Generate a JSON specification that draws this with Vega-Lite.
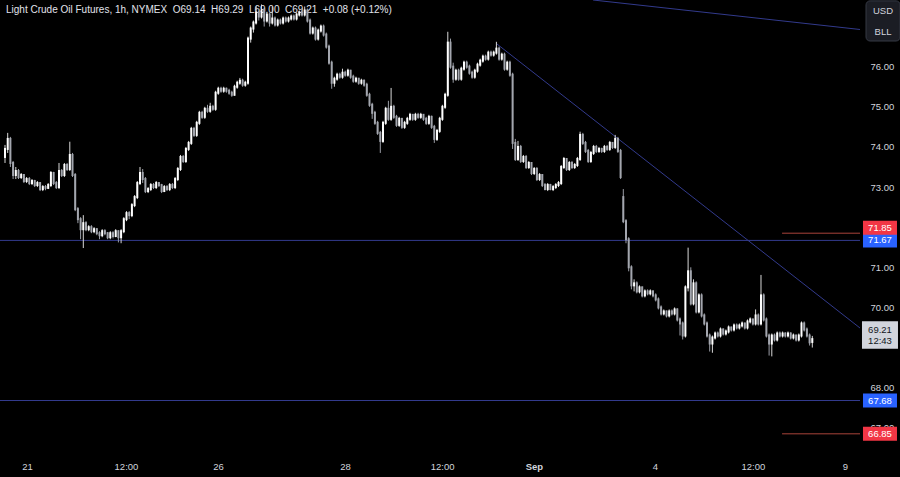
{
"$schema": "https://vega.github.io/schema/vega-lite/v6.json",
"width": 860, "height": 455, "padding": {"left": 0, "top": 0, "right": 40, "bottom": 22}, "autosize": {"type": "none"},
"background": "#000000",
"config": {"view": {"stroke": null}, "font": "Liberation Sans",
  "axis": {"domain": false, "ticks": false, "grid": false, "labelColor": "#d1d4dc", "labelFont": "Liberation Sans", "labelFontSize": 9.5, "title": null}},
"datasets": {
 "head": [{"t": "Light Crude Oil Futures, 1h, NYMEX \u00a0O69.14 \u00a0H69.29 \u00a0L69.00 \u00a0C69.21 \u00a0+0.08 (+0.12%)"}],
 "hl": [{"p": 71.67}, {"p": 67.68}],
 "red": [{"p": 71.85}, {"p": 66.85}],
 "trend": [{"i": 182.2, "p": 76.566}, {"i": 316.67, "p": 69.487}],
 "top": [{"i": 217.8, "p": 77.662}, {"i": 316.67, "p": 76.927}],
 "tags": [{"p": 71.85, "k": "red", "t": "71.85"}, {"p": 71.67, "k": "blue", "t": "71.67"}, {"p": 67.68, "k": "blue", "t": "67.68"}, {"p": 66.85, "k": "red", "t": "66.85"}],
 "last": [{"p": 69.21, "t": "69.21", "cd": "12:43"}],
 "cur": [{"a": "USD", "p": 77.388}, {"a": "BLL", "p": 76.872}],
 "ohlc": [
{"i":0,"o":73.75,"h":74.05,"l":73.6,"c":73.95},
{"i":1,"o":73.95,"h":74.35,"l":73.85,"c":74.2},
{"i":2,"o":74.2,"h":74.25,"l":73.5,"c":73.6},
{"i":3,"o":73.6,"h":73.65,"l":73.2,"c":73.3},
{"i":4,"o":73.3,"h":73.5,"l":73.2,"c":73.4},
{"i":5,"o":73.4,"h":73.45,"l":73.2,"c":73.25},
{"i":6,"o":73.25,"h":73.35,"l":73.2,"c":73.3},
{"i":7,"o":73.3,"h":73.32,"l":73.1,"c":73.15},
{"i":8,"o":73.15,"h":73.25,"l":73.1,"c":73.2},
{"i":9,"o":73.2,"h":73.25,"l":73.05,"c":73.1},
{"i":10,"o":73.1,"h":73.2,"l":73.05,"c":73.15},
{"i":11,"o":73.15,"h":73.18,"l":73.0,"c":73.05},
{"i":12,"o":73.05,"h":73.15,"l":73.0,"c":73.1},
{"i":13,"o":73.1,"h":73.12,"l":72.9,"c":72.95},
{"i":14,"o":72.95,"h":73.05,"l":72.9,"c":73.0},
{"i":15,"o":73.0,"h":73.05,"l":72.92,"c":72.98},
{"i":16,"o":72.98,"h":73.1,"l":72.95,"c":73.05},
{"i":17,"o":73.05,"h":73.4,"l":73.0,"c":73.35},
{"i":18,"o":73.35,"h":73.38,"l":73.05,"c":73.1},
{"i":19,"o":73.1,"h":73.15,"l":72.95,"c":73.0},
{"i":20,"o":73.0,"h":73.6,"l":72.95,"c":73.4},
{"i":21,"o":73.4,"h":73.45,"l":73.25,"c":73.3},
{"i":22,"o":73.3,"h":73.6,"l":73.25,"c":73.55},
{"i":23,"o":73.55,"h":73.6,"l":73.4,"c":73.45},
{"i":24,"o":73.45,"h":74.13,"l":73.4,"c":73.8},
{"i":25,"o":73.8,"h":73.85,"l":73.25,"c":73.3},
{"i":26,"o":73.3,"h":73.35,"l":72.4,"c":72.45},
{"i":27,"o":72.45,"h":72.5,"l":72.1,"c":72.2},
{"i":28,"o":72.2,"h":72.25,"l":71.7,"c":71.95},
{"i":29,"o":71.95,"h":72.3,"l":71.48,"c":72.1},
{"i":30,"o":72.1,"h":72.15,"l":71.9,"c":71.95},
{"i":31,"o":71.95,"h":72.05,"l":71.9,"c":72.0},
{"i":32,"o":72.0,"h":72.05,"l":71.85,"c":71.9},
{"i":33,"o":71.9,"h":72.0,"l":71.85,"c":71.95},
{"i":34,"o":71.95,"h":71.98,"l":71.8,"c":71.85},
{"i":35,"o":71.85,"h":71.9,"l":71.7,"c":71.8},
{"i":36,"o":71.8,"h":71.95,"l":71.75,"c":71.9},
{"i":37,"o":71.9,"h":71.95,"l":71.8,"c":71.85},
{"i":38,"o":71.85,"h":71.88,"l":71.7,"c":71.75},
{"i":39,"o":71.75,"h":71.9,"l":71.7,"c":71.85},
{"i":40,"o":71.85,"h":71.9,"l":71.72,"c":71.78},
{"i":41,"o":71.78,"h":71.95,"l":71.75,"c":71.9},
{"i":42,"o":71.9,"h":71.92,"l":71.62,"c":71.75},
{"i":43,"o":71.75,"h":71.95,"l":71.6,"c":71.9},
{"i":44,"o":71.9,"h":72.25,"l":71.85,"c":72.2},
{"i":45,"o":72.2,"h":72.4,"l":72.15,"c":72.35},
{"i":46,"o":72.35,"h":72.4,"l":72.2,"c":72.3},
{"i":47,"o":72.3,"h":72.6,"l":72.25,"c":72.55},
{"i":48,"o":72.55,"h":72.8,"l":72.5,"c":72.75},
{"i":49,"o":72.75,"h":73.15,"l":72.7,"c":73.1},
{"i":50,"o":73.1,"h":73.5,"l":73.05,"c":73.35},
{"i":51,"o":73.35,"h":73.45,"l":73.1,"c":73.2},
{"i":52,"o":73.2,"h":73.25,"l":72.85,"c":72.9},
{"i":53,"o":72.9,"h":73.0,"l":72.85,"c":72.95},
{"i":54,"o":72.95,"h":73.1,"l":72.9,"c":73.05},
{"i":55,"o":73.05,"h":73.1,"l":72.95,"c":73.0},
{"i":56,"o":73.0,"h":73.15,"l":72.95,"c":73.1},
{"i":57,"o":73.1,"h":73.12,"l":73.0,"c":73.05},
{"i":58,"o":73.05,"h":73.08,"l":72.85,"c":72.9},
{"i":59,"o":72.9,"h":73.05,"l":72.88,"c":73.0},
{"i":60,"o":73.0,"h":73.05,"l":72.9,"c":72.95},
{"i":61,"o":72.95,"h":73.1,"l":72.9,"c":73.05},
{"i":62,"o":73.05,"h":73.1,"l":72.95,"c":73.0},
{"i":63,"o":73.0,"h":73.25,"l":72.95,"c":73.2},
{"i":64,"o":73.2,"h":73.5,"l":73.15,"c":73.45},
{"i":65,"o":73.45,"h":73.8,"l":73.4,"c":73.75},
{"i":66,"o":73.75,"h":73.8,"l":73.6,"c":73.65},
{"i":67,"o":73.65,"h":74.0,"l":73.6,"c":73.95},
{"i":68,"o":73.95,"h":74.15,"l":73.9,"c":74.1},
{"i":69,"o":74.1,"h":74.5,"l":74.05,"c":74.45},
{"i":70,"o":74.45,"h":74.5,"l":74.25,"c":74.3},
{"i":71,"o":74.3,"h":74.65,"l":74.25,"c":74.6},
{"i":72,"o":74.6,"h":74.9,"l":74.55,"c":74.85},
{"i":73,"o":74.85,"h":74.9,"l":74.7,"c":74.75},
{"i":74,"o":74.75,"h":75.0,"l":74.7,"c":74.95},
{"i":75,"o":74.95,"h":75.05,"l":74.85,"c":74.9},
{"i":76,"o":74.9,"h":75.1,"l":74.85,"c":75.0},
{"i":77,"o":75.0,"h":75.05,"l":74.9,"c":74.95},
{"i":78,"o":74.95,"h":75.4,"l":74.9,"c":75.35},
{"i":79,"o":75.35,"h":75.5,"l":75.3,"c":75.45},
{"i":80,"o":75.45,"h":75.5,"l":75.35,"c":75.4},
{"i":81,"o":75.4,"h":75.5,"l":75.35,"c":75.45},
{"i":82,"o":75.45,"h":75.48,"l":75.35,"c":75.4},
{"i":83,"o":75.4,"h":75.45,"l":75.3,"c":75.35},
{"i":84,"o":75.35,"h":75.4,"l":75.25,"c":75.3},
{"i":85,"o":75.3,"h":75.55,"l":75.28,"c":75.5},
{"i":86,"o":75.5,"h":75.65,"l":75.45,"c":75.6},
{"i":87,"o":75.6,"h":75.72,"l":75.55,"c":75.65},
{"i":88,"o":75.65,"h":75.7,"l":75.5,"c":75.55},
{"i":89,"o":75.55,"h":75.65,"l":75.5,"c":75.6},
{"i":90,"o":75.6,"h":76.75,"l":75.55,"c":76.7},
{"i":91,"o":76.7,"h":77.0,"l":76.6,"c":76.95},
{"i":92,"o":76.95,"h":77.15,"l":76.85,"c":77.1},
{"i":93,"o":77.1,"h":77.5,"l":77.05,"c":77.35},
{"i":94,"o":77.35,"h":77.4,"l":77.15,"c":77.25},
{"i":95,"o":77.25,"h":77.55,"l":77.2,"c":77.4},
{"i":96,"o":77.4,"h":77.45,"l":77.0,"c":77.15},
{"i":97,"o":77.15,"h":77.35,"l":77.1,"c":77.3},
{"i":98,"o":77.3,"h":77.35,"l":77.0,"c":77.1},
{"i":99,"o":77.1,"h":77.5,"l":77.05,"c":77.2},
{"i":100,"o":77.2,"h":77.25,"l":77.0,"c":77.05},
{"i":101,"o":77.05,"h":77.2,"l":77.0,"c":77.15},
{"i":102,"o":77.15,"h":77.2,"l":77.05,"c":77.1},
{"i":103,"o":77.1,"h":77.25,"l":77.05,"c":77.2},
{"i":104,"o":77.2,"h":77.25,"l":77.1,"c":77.15},
{"i":105,"o":77.15,"h":77.25,"l":77.1,"c":77.2},
{"i":106,"o":77.2,"h":77.3,"l":77.15,"c":77.25},
{"i":107,"o":77.25,"h":77.3,"l":77.15,"c":77.2},
{"i":108,"o":77.2,"h":77.35,"l":77.15,"c":77.3},
{"i":109,"o":77.3,"h":77.4,"l":77.25,"c":77.35},
{"i":110,"o":77.35,"h":77.45,"l":77.25,"c":77.3},
{"i":111,"o":77.3,"h":77.5,"l":77.25,"c":77.4},
{"i":112,"o":77.4,"h":77.45,"l":77.1,"c":77.15},
{"i":113,"o":77.15,"h":77.2,"l":76.8,"c":76.85},
{"i":114,"o":76.85,"h":77.0,"l":76.8,"c":76.95},
{"i":115,"o":76.95,"h":77.0,"l":76.65,"c":76.7},
{"i":116,"o":76.7,"h":76.95,"l":76.65,"c":76.9},
{"i":117,"o":76.9,"h":77.05,"l":76.85,"c":77.0},
{"i":118,"o":77.0,"h":77.05,"l":76.75,"c":76.8},
{"i":119,"o":76.8,"h":76.85,"l":76.45,"c":76.5},
{"i":120,"o":76.5,"h":76.55,"l":76.05,"c":76.1},
{"i":121,"o":76.1,"h":76.15,"l":75.45,"c":75.6},
{"i":122,"o":75.6,"h":75.75,"l":75.5,"c":75.7},
{"i":123,"o":75.7,"h":75.85,"l":75.65,"c":75.8},
{"i":124,"o":75.8,"h":75.85,"l":75.7,"c":75.75},
{"i":125,"o":75.75,"h":75.95,"l":75.7,"c":75.85},
{"i":126,"o":75.85,"h":75.9,"l":75.75,"c":75.8},
{"i":127,"o":75.8,"h":75.95,"l":75.75,"c":75.9},
{"i":128,"o":75.9,"h":75.92,"l":75.7,"c":75.75},
{"i":129,"o":75.75,"h":75.8,"l":75.6,"c":75.65},
{"i":130,"o":75.65,"h":75.75,"l":75.6,"c":75.7},
{"i":131,"o":75.7,"h":75.72,"l":75.55,"c":75.6},
{"i":132,"o":75.6,"h":75.7,"l":75.55,"c":75.65},
{"i":133,"o":75.65,"h":75.68,"l":75.5,"c":75.55},
{"i":134,"o":75.55,"h":75.6,"l":75.25,"c":75.3},
{"i":135,"o":75.3,"h":75.35,"l":75.0,"c":75.05},
{"i":136,"o":75.05,"h":75.1,"l":74.7,"c":74.85},
{"i":137,"o":74.85,"h":74.9,"l":74.55,"c":74.6},
{"i":138,"o":74.6,"h":74.65,"l":74.3,"c":74.35},
{"i":139,"o":74.35,"h":74.4,"l":73.85,"c":74.15},
{"i":140,"o":74.15,"h":74.65,"l":74.1,"c":74.6},
{"i":141,"o":74.6,"h":75.0,"l":74.55,"c":74.95},
{"i":142,"o":74.95,"h":75.15,"l":74.65,"c":74.7},
{"i":143,"o":74.7,"h":75.47,"l":74.65,"c":75.0},
{"i":144,"o":75.0,"h":75.05,"l":74.7,"c":74.75},
{"i":145,"o":74.75,"h":74.8,"l":74.5,"c":74.55},
{"i":146,"o":74.55,"h":74.75,"l":74.5,"c":74.7},
{"i":147,"o":74.7,"h":74.72,"l":74.45,"c":74.5},
{"i":148,"o":74.5,"h":74.65,"l":74.45,"c":74.6},
{"i":149,"o":74.6,"h":74.75,"l":74.55,"c":74.7},
{"i":150,"o":74.7,"h":74.85,"l":74.65,"c":74.8},
{"i":151,"o":74.8,"h":74.82,"l":74.65,"c":74.7},
{"i":152,"o":74.7,"h":74.85,"l":74.65,"c":74.8},
{"i":153,"o":74.8,"h":74.85,"l":74.7,"c":74.75},
{"i":154,"o":74.75,"h":74.85,"l":74.7,"c":74.8},
{"i":155,"o":74.8,"h":74.82,"l":74.65,"c":74.7},
{"i":156,"o":74.7,"h":74.75,"l":74.55,"c":74.6},
{"i":157,"o":74.6,"h":74.8,"l":74.55,"c":74.75},
{"i":158,"o":74.75,"h":74.78,"l":74.45,"c":74.5},
{"i":159,"o":74.5,"h":74.55,"l":74.1,"c":74.2},
{"i":160,"o":74.2,"h":74.45,"l":74.15,"c":74.4},
{"i":161,"o":74.4,"h":74.75,"l":74.35,"c":74.7},
{"i":162,"o":74.7,"h":75.05,"l":74.65,"c":75.0},
{"i":163,"o":75.0,"h":75.35,"l":74.95,"c":75.3},
{"i":164,"o":75.3,"h":76.87,"l":75.25,"c":76.6},
{"i":165,"o":76.6,"h":76.7,"l":75.95,"c":76.0},
{"i":166,"o":76.0,"h":76.1,"l":75.6,"c":75.7},
{"i":167,"o":75.7,"h":75.95,"l":75.65,"c":75.9},
{"i":168,"o":75.9,"h":75.95,"l":75.65,"c":75.7},
{"i":169,"o":75.7,"h":76.0,"l":75.65,"c":75.95},
{"i":170,"o":75.95,"h":76.15,"l":75.9,"c":76.1},
{"i":171,"o":76.1,"h":76.15,"l":75.95,"c":76.0},
{"i":172,"o":76.0,"h":76.05,"l":75.8,"c":75.85},
{"i":173,"o":75.85,"h":75.9,"l":75.7,"c":75.75},
{"i":174,"o":75.75,"h":75.95,"l":75.7,"c":75.9},
{"i":175,"o":75.9,"h":76.1,"l":75.85,"c":76.05},
{"i":176,"o":76.05,"h":76.2,"l":76.0,"c":76.15},
{"i":177,"o":76.15,"h":76.3,"l":76.1,"c":76.25},
{"i":178,"o":76.25,"h":76.3,"l":76.15,"c":76.2},
{"i":179,"o":76.2,"h":76.4,"l":76.15,"c":76.35},
{"i":180,"o":76.35,"h":76.4,"l":76.25,"c":76.3},
{"i":181,"o":76.3,"h":76.4,"l":76.25,"c":76.35},
{"i":182,"o":76.35,"h":76.62,"l":76.3,"c":76.45},
{"i":183,"o":76.45,"h":76.5,"l":76.15,"c":76.2},
{"i":184,"o":76.2,"h":76.35,"l":76.15,"c":76.3},
{"i":185,"o":76.3,"h":76.35,"l":75.9,"c":75.95},
{"i":186,"o":75.95,"h":76.15,"l":75.9,"c":76.1},
{"i":187,"o":76.1,"h":76.15,"l":75.75,"c":75.8},
{"i":188,"o":75.8,"h":75.85,"l":73.95,"c":74.1},
{"i":189,"o":74.1,"h":74.2,"l":73.65,"c":73.7},
{"i":190,"o":73.7,"h":74.15,"l":73.65,"c":74.0},
{"i":191,"o":74.0,"h":74.05,"l":73.6,"c":73.65},
{"i":192,"o":73.65,"h":73.8,"l":73.6,"c":73.75},
{"i":193,"o":73.75,"h":73.8,"l":73.45,"c":73.5},
{"i":194,"o":73.5,"h":73.65,"l":73.45,"c":73.6},
{"i":195,"o":73.6,"h":73.62,"l":73.3,"c":73.35},
{"i":196,"o":73.35,"h":73.5,"l":73.3,"c":73.45},
{"i":197,"o":73.45,"h":73.5,"l":73.15,"c":73.2},
{"i":198,"o":73.2,"h":73.35,"l":73.15,"c":73.3},
{"i":199,"o":73.3,"h":73.32,"l":73.0,"c":73.05},
{"i":200,"o":73.05,"h":73.1,"l":72.92,"c":72.95},
{"i":201,"o":72.95,"h":73.1,"l":72.9,"c":73.05},
{"i":202,"o":73.05,"h":73.08,"l":72.92,"c":72.95},
{"i":203,"o":72.95,"h":73.05,"l":72.9,"c":73.0},
{"i":204,"o":73.0,"h":73.1,"l":72.95,"c":73.05},
{"i":205,"o":73.05,"h":73.15,"l":73.0,"c":73.1},
{"i":206,"o":73.1,"h":73.55,"l":73.05,"c":73.5},
{"i":207,"o":73.5,"h":73.75,"l":73.45,"c":73.7},
{"i":208,"o":73.7,"h":73.72,"l":73.4,"c":73.45},
{"i":209,"o":73.45,"h":73.65,"l":73.4,"c":73.6},
{"i":210,"o":73.6,"h":73.65,"l":73.45,"c":73.5},
{"i":211,"o":73.5,"h":73.6,"l":73.45,"c":73.55},
{"i":212,"o":73.55,"h":73.75,"l":73.5,"c":73.7},
{"i":213,"o":73.7,"h":74.38,"l":73.65,"c":74.3},
{"i":214,"o":74.3,"h":74.35,"l":74.05,"c":74.1},
{"i":215,"o":74.1,"h":74.15,"l":73.85,"c":73.9},
{"i":216,"o":73.9,"h":73.95,"l":73.6,"c":73.65},
{"i":217,"o":73.65,"h":73.9,"l":73.6,"c":73.85},
{"i":218,"o":73.85,"h":74.05,"l":73.8,"c":74.0},
{"i":219,"o":74.0,"h":74.05,"l":73.85,"c":73.9},
{"i":220,"o":73.9,"h":74.0,"l":73.85,"c":73.95},
{"i":221,"o":73.95,"h":73.98,"l":73.85,"c":73.9},
{"i":222,"o":73.9,"h":74.05,"l":73.85,"c":74.0},
{"i":223,"o":74.0,"h":74.05,"l":73.9,"c":73.95},
{"i":224,"o":73.95,"h":74.15,"l":73.9,"c":74.1},
{"i":225,"o":74.1,"h":74.12,"l":73.95,"c":74.0},
{"i":226,"o":74.0,"h":74.3,"l":73.95,"c":74.2},
{"i":227,"o":74.2,"h":74.25,"l":73.85,"c":73.9},
{"i":228,"o":73.9,"h":73.95,"l":73.2,"c":73.25},
{"i":229,"o":72.75,"h":72.95,"l":72.1,"c":72.15},
{"i":230,"o":72.15,"h":72.2,"l":71.6,"c":71.7},
{"i":231,"o":71.7,"h":71.75,"l":70.9,"c":71.0},
{"i":232,"o":71.0,"h":71.05,"l":70.45,"c":70.55},
{"i":233,"o":70.55,"h":70.7,"l":70.4,"c":70.6},
{"i":234,"o":70.6,"h":70.65,"l":70.35,"c":70.4},
{"i":235,"o":70.4,"h":70.55,"l":70.35,"c":70.5},
{"i":236,"o":70.5,"h":70.52,"l":70.25,"c":70.3},
{"i":237,"o":70.3,"h":70.45,"l":70.25,"c":70.4},
{"i":238,"o":70.4,"h":70.45,"l":70.3,"c":70.35},
{"i":239,"o":70.35,"h":70.45,"l":70.3,"c":70.4},
{"i":240,"o":70.4,"h":70.42,"l":70.25,"c":70.3},
{"i":241,"o":70.3,"h":70.35,"l":70.15,"c":70.2},
{"i":242,"o":70.2,"h":70.25,"l":69.95,"c":70.0},
{"i":243,"o":70.0,"h":70.05,"l":69.8,"c":69.85},
{"i":244,"o":69.85,"h":69.95,"l":69.8,"c":69.9},
{"i":245,"o":69.9,"h":69.92,"l":69.75,"c":69.8},
{"i":246,"o":69.8,"h":69.95,"l":69.75,"c":69.9},
{"i":247,"o":69.9,"h":69.95,"l":69.8,"c":69.85},
{"i":248,"o":69.85,"h":70.0,"l":69.8,"c":69.95},
{"i":249,"o":69.95,"h":69.98,"l":69.65,"c":69.7},
{"i":250,"o":69.7,"h":69.75,"l":69.3,"c":69.6},
{"i":251,"o":69.6,"h":69.65,"l":69.2,"c":69.3},
{"i":252,"o":69.3,"h":70.55,"l":69.25,"c":70.5},
{"i":253,"o":70.5,"h":71.49,"l":70.4,"c":70.9},
{"i":254,"o":70.9,"h":71.0,"l":70.05,"c":70.1},
{"i":255,"o":70.1,"h":70.7,"l":70.05,"c":70.6},
{"i":256,"o":70.6,"h":70.65,"l":69.85,"c":69.9},
{"i":257,"o":69.9,"h":70.35,"l":69.85,"c":70.3},
{"i":258,"o":70.3,"h":70.35,"l":69.75,"c":69.8},
{"i":259,"o":69.8,"h":69.85,"l":69.55,"c":69.6},
{"i":260,"o":69.6,"h":69.65,"l":69.25,"c":69.3},
{"i":261,"o":69.3,"h":69.35,"l":68.9,"c":69.1},
{"i":262,"o":69.1,"h":69.3,"l":68.87,"c":69.25},
{"i":263,"o":69.25,"h":69.4,"l":69.2,"c":69.35},
{"i":264,"o":69.35,"h":69.4,"l":69.25,"c":69.3},
{"i":265,"o":69.3,"h":69.5,"l":69.25,"c":69.45},
{"i":266,"o":69.45,"h":69.48,"l":69.3,"c":69.35},
{"i":267,"o":69.35,"h":69.45,"l":69.3,"c":69.4},
{"i":268,"o":69.4,"h":69.55,"l":69.35,"c":69.5},
{"i":269,"o":69.5,"h":69.52,"l":69.4,"c":69.45},
{"i":270,"o":69.45,"h":69.6,"l":69.4,"c":69.55},
{"i":271,"o":69.55,"h":69.6,"l":69.45,"c":69.5},
{"i":272,"o":69.5,"h":69.6,"l":69.45,"c":69.55},
{"i":273,"o":69.55,"h":69.65,"l":69.5,"c":69.6},
{"i":274,"o":69.6,"h":69.62,"l":69.45,"c":69.5},
{"i":275,"o":69.5,"h":69.7,"l":69.45,"c":69.65},
{"i":276,"o":69.65,"h":69.75,"l":69.6,"c":69.7},
{"i":277,"o":69.7,"h":69.72,"l":69.55,"c":69.6},
{"i":278,"o":69.6,"h":69.95,"l":69.55,"c":69.8},
{"i":279,"o":69.8,"h":69.85,"l":69.55,"c":69.6},
{"i":280,"o":69.6,"h":70.81,"l":69.55,"c":70.3},
{"i":281,"o":70.3,"h":70.35,"l":69.65,"c":69.7},
{"i":282,"o":69.7,"h":69.75,"l":69.25,"c":69.3},
{"i":283,"o":69.3,"h":69.35,"l":68.8,"c":69.1},
{"i":284,"o":69.1,"h":69.35,"l":68.78,"c":69.3},
{"i":285,"o":69.3,"h":69.35,"l":69.15,"c":69.2},
{"i":286,"o":69.2,"h":69.4,"l":69.15,"c":69.35},
{"i":287,"o":69.35,"h":69.4,"l":69.25,"c":69.3},
{"i":288,"o":69.3,"h":69.4,"l":69.25,"c":69.35},
{"i":289,"o":69.35,"h":69.38,"l":69.25,"c":69.3},
{"i":290,"o":69.3,"h":69.4,"l":69.25,"c":69.35},
{"i":291,"o":69.35,"h":69.38,"l":69.2,"c":69.25},
{"i":292,"o":69.25,"h":69.35,"l":69.2,"c":69.3},
{"i":293,"o":69.3,"h":69.32,"l":69.15,"c":69.2},
{"i":294,"o":69.2,"h":69.35,"l":69.15,"c":69.3},
{"i":295,"o":69.3,"h":69.65,"l":69.25,"c":69.6},
{"i":296,"o":69.6,"h":69.65,"l":69.4,"c":69.45},
{"i":297,"o":69.45,"h":69.5,"l":69.25,"c":69.3},
{"i":298,"o":69.3,"h":69.35,"l":69.05,"c":69.13},
{"i":299,"o":69.14,"h":69.29,"l":69.0,"c":69.21}
 ]
},
"layer": [
 {"data": {"name": "head"},
  "mark": {"type": "text", "align": "left", "baseline": "middle", "fontSize": 10, "font": "Liberation Sans", "color": "#e0e3eb"},
  "encoding": {"x": {"datum": 0.37, "type": "quantitative"}, "y": {"datum": 77.41, "type": "quantitative"}, "text": {"field": "t"}}},
 {"data": {"name": "hl"},
  "mark": {"type": "rule", "color": "#323a8c", "strokeWidth": 1},
  "encoding": {"y": {"field": "p", "type": "quantitative"}}},
 {"data": {"name": "red"},
  "mark": {"type": "rule", "color": "#a8433a", "strokeWidth": 1},
  "encoding": {"x": {"datum": 287.8, "type": "quantitative"}, "x2": {"datum": 316.67}, "y": {"field": "p", "type": "quantitative"}}},
 {"data": {"name": "trend"},
  "mark": {"type": "line", "color": "#323a8c", "strokeWidth": 1, "clip": true},
  "encoding": {"x": {"field": "i", "type": "quantitative"}, "y": {"field": "p", "type": "quantitative"}}},
 {"data": {"name": "top"},
  "mark": {"type": "line", "color": "#323a8c", "strokeWidth": 1, "clip": true},
  "encoding": {"x": {"field": "i", "type": "quantitative"}, "y": {"field": "p", "type": "quantitative"}}},
 {"data": {"name": "ohlc"},
  "mark": {"type": "rule", "strokeWidth": 1},
  "encoding": {
   "x": {"field": "i", "type": "quantitative",
     "scale": {"domain": [-1.852, 316.667], "nice": false, "zero": false},
     "axis": {"title": null, "values": [8.15, 44.8, 78.9, 125.9, 161.9, 195.9, 240.7, 277.0, 311.1],
       "labelExpr": "datum.value < 20 ? '21' : datum.value < 60 ? '12:00' : datum.value < 100 ? '26' : datum.value < 140 ? '28' : datum.value < 180 ? '12:00' : datum.value < 220 ? 'Sep' : datum.value < 260 ? '4' : datum.value < 300 ? '12:00' : '9'",
       "labelFontWeight": {"condition": {"test": "datum.value > 190 && datum.value < 200", "value": "bold"}, "value": "normal"},
       "labelPadding": 6, "labelOverlap": false, "labelFlush": false}},
   "y": {"field": "l", "type": "quantitative",
     "scale": {"domain": [66.322, 77.662], "nice": false, "zero": false},
     "axis": {"title": null, "orient": "right", "values": [67, 68, 70, 71, 73, 74, 75, 76], "format": ".2f", "labelAlign": "left", "labelBaseline": "middle", "labelPadding": 10, "labelOverlap": false, "labelFlush": false}},
   "y2": {"field": "h"},
   "color": {"condition": {"test": "datum.c >= datum.o", "value": "#d8d8d8"}, "value": "#9a9da6"}}},
 {"data": {"name": "ohlc"},
  "mark": {"type": "rule", "strokeWidth": 2, "strokeCap": "square"},
  "encoding": {
   "x": {"field": "i", "type": "quantitative"},
   "y": {"field": "o", "type": "quantitative"},
   "y2": {"field": "c"},
   "color": {"condition": {"test": "datum.c >= datum.o", "value": "#ffffff"}, "value": "#a3a6ae"}}},
 {"data": {"name": "tags"},
  "transform": [{"filter": "datum.p != 71.85"}],
  "mark": {"type": "point", "shape": "M-1,-0.41L1,-0.41L1,0.41L-1,0.41Z", "size": 1156, "filled": true, "opacity": 1, "strokeWidth": 0},
  "encoding": {"x": {"datum": 324.07, "type": "quantitative"}, "y": {"field": "p", "type": "quantitative"},
   "color": {"field": "k", "type": "nominal", "scale": {"domain": ["red", "blue"], "range": ["#f23645", "#2962ff"]}, "legend": null}}},
 {"data": {"name": "tags"},
  "transform": [{"filter": "datum.p != 71.85"}],
  "mark": {"type": "text", "align": "center", "baseline": "middle", "fontSize": 9.5, "color": "#ffffff"},
  "encoding": {"x": {"datum": 324.07, "type": "quantitative"}, "y": {"field": "p", "type": "quantitative"}, "text": {"field": "t"}}},
 {"data": {"name": "tags"},
  "transform": [{"filter": "datum.p == 71.85"}],
  "mark": {"type": "point", "shape": "M-1,-0.41L1,-0.41L1,0.41L-1,0.41Z", "size": 1156, "filled": true, "opacity": 1, "strokeWidth": 0, "yOffset": -5.5, "color": "#f23645"},
  "encoding": {"x": {"datum": 324.07, "type": "quantitative"}, "y": {"field": "p", "type": "quantitative"}}},
 {"data": {"name": "tags"},
  "transform": [{"filter": "datum.p == 71.85"}],
  "mark": {"type": "text", "align": "center", "baseline": "middle", "fontSize": 9.5, "color": "#ffffff", "yOffset": -5.5},
  "encoding": {"x": {"datum": 324.07, "type": "quantitative"}, "y": {"field": "p", "type": "quantitative"}, "text": {"field": "t"}}},
 {"data": {"name": "last"},
  "mark": {"type": "point", "shape": "M-1,-0.99L1,-0.99L1,0.54L-1,0.54Z", "size": 1296, "filled": true, "opacity": 1, "strokeWidth": 0, "color": "#d1d4dc"},
  "encoding": {"x": {"datum": 324.07, "type": "quantitative"}, "y": {"field": "p", "type": "quantitative"}}},
 {"data": {"name": "last"},
  "mark": {"type": "text", "align": "center", "baseline": "middle", "fontSize": 9.5, "color": "#131722", "dy": -9.6},
  "encoding": {"x": {"datum": 324.07, "type": "quantitative"}, "y": {"field": "p", "type": "quantitative"}, "text": {"field": "t"}}},
 {"data": {"name": "last"},
  "mark": {"type": "text", "align": "center", "baseline": "middle", "fontSize": 9.5, "color": "#131722", "dy": 2.1},
  "encoding": {"x": {"datum": 324.07, "type": "quantitative"}, "y": {"field": "p", "type": "quantitative"}, "text": {"field": "cd"}}},
 {"data": {"values": [{}]},
  "mark": {"type": "rect", "cornerRadius": 4, "fill": "#1b1d24", "stroke": "#363a45", "strokeWidth": 1},
  "encoding": {"x": {"datum": 318.9, "type": "quantitative"}, "x2": {"datum": 331.5}, "y": {"datum": 77.64, "type": "quantitative"}, "y2": {"datum": 76.64}}},
 {"data": {"name": "cur"},
  "mark": {"type": "text", "align": "center", "baseline": "middle", "fontSize": 9.5, "color": "#d1d4dc"},
  "encoding": {"x": {"datum": 325.2, "type": "quantitative"}, "y": {"field": "p", "type": "quantitative"}, "text": {"field": "a"}}}
]
}
